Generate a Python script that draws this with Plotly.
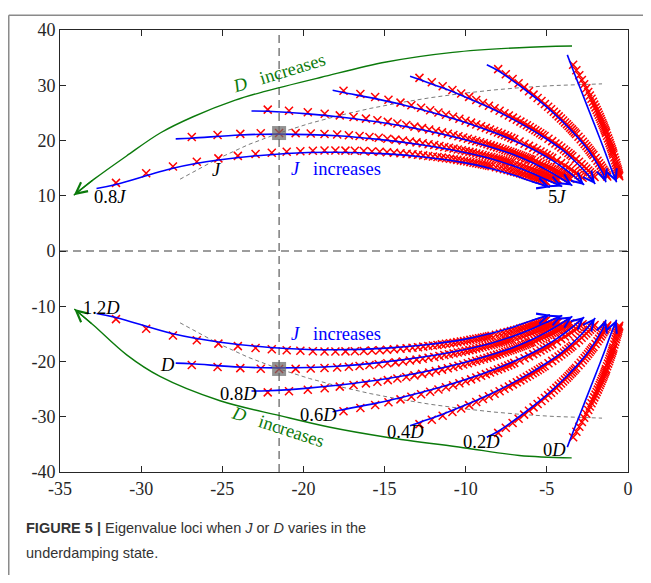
import plotly.graph_objects as go

# ---------------- axes / ticks ----------------
x_range = [-35, 0]
y_range = [-40, 40]
x_tick_vals = [-35, -30, -25, -20, -15, -10, -5, 0]
x_tick_text = ["-35", "-30", "-25", "-20", "-15", "-10", "-5", "0"]
y_tick_vals = [-40, -30, -20, -10, 0, 10, 20, 30, 40]
y_tick_text = ["-40", "-30", "-20", "-10", "0", "10", "20", "30", "40"]

# ---------------- red crosses (upper half, J = 0.8J ... 5J) ----------------
cross_re_12 = [-31.55, -29.69, -28.04, -26.57, -25.24, -24.04, -22.95, -21.95, -21.03, -20.19, -19.42, -18.70, -18.03, -17.41, -16.83, -16.28, -15.78, -15.30, -14.85, -14.42, -14.02, -13.64, -13.28, -12.94, -12.62, -12.02, -11.47, -10.97, -10.52, -10.10, -9.71, -9.35, -9.01, -8.70, -8.41, -7.89, -7.42, -7.01, -6.64, -6.31, -6.01, -5.74, -5.49, -5.26, -5.05]
cross_im_12 = [12.33, 14.08, 15.28, 16.14, 16.76, 17.22, 17.55, 17.79, 17.96, 18.07, 18.14, 18.18, 18.18, 18.17, 18.13, 18.09, 18.02, 17.95, 17.88, 17.79, 17.70, 17.61, 17.51, 17.41, 17.31, 17.11, 16.90, 16.69, 16.49, 16.29, 16.09, 15.89, 15.70, 15.52, 15.34, 14.99, 14.66, 14.35, 14.05, 13.77, 13.51, 13.26, 13.02, 12.79, 12.57]
cross_re_12_mid = [-12.31, -11.74, -11.22, -10.74, -10.30, -9.90, -9.52, -9.18, -8.86, -8.56, -8.14, -7.65, -7.21, -6.82, -6.47, -6.16, -5.87, -5.61, -5.37, -5.15]
cross_im_12_mid = [17.21, 17.00, 16.80, 16.59, 16.39, 16.19, 15.99, 15.80, 15.61, 15.43, 15.16, 14.82, 14.50, 14.20, 13.91, 13.64, 13.38, 13.14, 12.90, 12.68]

cross_re_10 = [-26.88, -25.29, -23.89, -22.63, -21.50, -20.48, -19.55, -18.70, -17.92, -17.20, -16.54, -15.93, -15.36, -14.83, -14.33, -13.87, -13.44, -13.03, -12.65, -12.29, -11.94, -11.62, -11.32, -11.03, -10.75, -10.24, -9.77, -9.35, -8.96, -8.60, -8.27, -7.96, -7.68, -7.41, -7.17, -6.72, -6.32, -5.97, -5.66, -5.38, -5.12, -4.89, -4.67, -4.48, -4.30]
cross_im_10 = [20.62, 20.98, 21.20, 21.31, 21.35, 21.33, 21.27, 21.18, 21.07, 20.94, 20.80, 20.65, 20.49, 20.33, 20.16, 20.00, 19.83, 19.66, 19.49, 19.33, 19.17, 19.00, 18.84, 18.69, 18.53, 18.23, 17.94, 17.66, 17.39, 17.12, 16.87, 16.63, 16.40, 16.17, 15.96, 15.55, 15.17, 14.81, 14.48, 14.16, 13.87, 13.59, 13.33, 13.08, 12.85]
cross_re_10_mid = [-10.49, -10.00, -9.56, -9.15, -8.78, -8.43, -8.11, -7.82, -7.54, -7.29, -6.94, -6.52, -6.14, -5.81, -5.51, -5.24, -5.00, -4.78, -4.57, -4.39]
cross_im_10_mid = [18.38, 18.08, 17.80, 17.52, 17.25, 17.00, 16.75, 16.51, 16.29, 16.06, 15.75, 15.35, 14.99, 14.64, 14.32, 14.01, 13.73, 13.46, 13.21, 12.96]

cross_re_08 = [-22.20, -20.89, -19.73, -18.69, -17.76, -16.91, -16.15, -15.44, -14.80, -14.21, -13.66, -13.16, -12.69, -12.25, -11.84, -11.46, -11.10, -10.76, -10.45, -10.15, -9.87, -9.60, -9.35, -9.11, -8.88, -8.46, -8.07, -7.72, -7.40, -7.10, -6.83, -6.58, -6.34, -6.12, -5.92, -5.55, -5.22, -4.93, -4.67, -4.44, -4.23, -4.04, -3.86, -3.70, -3.55]
cross_im_08 = [25.59, 25.37, 25.11, 24.84, 24.55, 24.25, 23.96, 23.66, 23.37, 23.08, 22.79, 22.51, 22.24, 21.98, 21.72, 21.47, 21.23, 20.99, 20.76, 20.53, 20.31, 20.10, 19.89, 19.69, 19.50, 19.12, 18.76, 18.43, 18.10, 17.80, 17.50, 17.23, 16.96, 16.70, 16.46, 16.00, 15.58, 15.19, 14.82, 14.48, 14.17, 13.87, 13.59, 13.33, 13.08]
cross_re_08_mid = [-8.66, -8.26, -7.89, -7.56, -7.25, -6.96, -6.70, -6.46, -6.23, -6.02, -5.73, -5.38, -5.07, -4.80, -4.55, -4.33, -4.13, -3.95, -3.78, -3.62]
cross_im_08_mid = [19.31, 18.94, 18.59, 18.26, 17.95, 17.65, 17.36, 17.09, 16.83, 16.58, 16.23, 15.79, 15.38, 15.00, 14.65, 14.32, 14.02, 13.73, 13.46, 13.20]

cross_re_06 = [-17.53, -16.49, -15.58, -14.76, -14.02, -13.35, -12.75, -12.19, -11.68, -11.22, -10.78, -10.39, -10.01, -9.67, -9.35, -9.05, -8.76, -8.50, -8.25, -8.01, -7.79, -7.58, -7.38, -7.19, -7.01, -6.68, -6.37, -6.10, -5.84, -5.61, -5.39, -5.19, -5.01, -4.83, -4.67, -4.38, -4.12, -3.89, -3.69, -3.51, -3.34, -3.19, -3.05, -2.92, -2.80]
cross_im_06 = [28.99, 28.42, 27.88, 27.36, 26.86, 26.38, 25.93, 25.49, 25.07, 24.67, 24.29, 23.92, 23.57, 23.23, 22.91, 22.59, 22.29, 22.00, 21.73, 21.46, 21.20, 20.95, 20.71, 20.47, 20.25, 19.81, 19.41, 19.03, 18.67, 18.32, 18.00, 17.69, 17.40, 17.12, 16.86, 16.36, 15.91, 15.49, 15.10, 14.74, 14.40, 14.09, 13.79, 13.52, 13.26]

cross_re_04 = [-12.85, -12.09, -11.42, -10.82, -10.28, -9.79, -9.35, -8.94, -8.57, -8.22, -7.91, -7.61, -7.34, -7.09, -6.85, -6.63, -6.43, -6.23, -6.05, -5.87, -5.71, -5.56, -5.41, -5.27, -5.14, -4.90, -4.67, -4.47, -4.28, -4.11, -3.95, -3.81, -3.67, -3.54, -3.43, -3.21, -3.02, -2.86, -2.71, -2.57, -2.45, -2.34, -2.23, -2.14, -2.06]
cross_im_04 = [31.34, 30.56, 29.83, 29.14, 28.50, 27.90, 27.34, 26.80, 26.30, 25.82, 25.37, 24.94, 24.53, 24.14, 23.77, 23.42, 23.08, 22.75, 22.44, 22.14, 21.85, 21.57, 21.30, 21.05, 20.80, 20.33, 19.89, 19.47, 19.08, 18.72, 18.37, 18.04, 17.73, 17.44, 17.15, 16.63, 16.15, 15.71, 15.31, 14.93, 14.58, 14.25, 13.95, 13.66, 13.39]

cross_re_02 = [-8.00, -7.53, -7.11, -6.74, -6.40, -6.10, -5.82, -5.57, -5.33, -5.12, -4.92, -4.74, -4.57, -4.41, -4.27, -4.13, -4.00, -3.88, -3.76, -3.66, -3.56, -3.46, -3.37, -3.28, -3.20, -3.05, -2.91, -2.78, -2.67, -2.56, -2.46, -2.37, -2.29, -2.21, -2.13, -2.00, -1.88, -1.78, -1.68, -1.60, -1.52, -1.45, -1.39, -1.33, -1.28]
cross_im_02 = [32.92, 31.99, 31.14, 30.35, 29.62, 28.93, 28.30, 27.70, 27.14, 26.61, 26.11, 25.64, 25.20, 24.77, 24.37, 23.98, 23.62, 23.27, 22.93, 22.61, 22.30, 22.01, 21.72, 21.45, 21.18, 20.68, 20.22, 19.78, 19.38, 18.99, 18.63, 18.29, 17.96, 17.65, 17.36, 16.82, 16.32, 15.87, 15.45, 15.06, 14.71, 14.37, 14.06, 13.77, 13.49]

cross_re_00 = [-3.38, -3.18, -3.00, -2.84, -2.70, -2.57, -2.45, -2.35, -2.25, -2.16, -2.08, -2.00, -1.93, -1.86, -1.80, -1.74, -1.69, -1.64, -1.59, -1.54, -1.50, -1.46, -1.42, -1.38, -1.35, -1.29, -1.23, -1.17, -1.13, -1.08, -1.04, -1.00, -0.96, -0.93, -0.90, -0.84, -0.79, -0.75, -0.71, -0.68, -0.64, -0.61, -0.59, -0.56, -0.54]
cross_im_00 = [33.71, 32.71, 31.80, 30.96, 30.18, 29.46, 28.78, 28.16, 27.57, 27.01, 26.49, 26.00, 25.53, 25.09, 24.67, 24.27, 23.89, 23.53, 23.18, 22.85, 22.53, 22.23, 21.93, 21.65, 21.38, 20.87, 20.39, 19.94, 19.53, 19.13, 18.76, 18.41, 18.08, 17.77, 17.47, 16.92, 16.41, 15.95, 15.53, 15.13, 14.77, 14.43, 14.11, 13.82, 13.54]

# ---------------- blue loci (upper half, arrow at 5J) ----------------
blue_re_12 = [-32.75, -31.55, -28.04, -25.24, -21.03, -18.03, -14.85, -12.62, -10.10, -8.41, -7.01, -6.01, -4.81]
blue_im_12 = [11.30, 12.03, 14.98, 16.46, 17.66, 17.88, 17.58, 17.01, 15.99, 14.89, 13.70, 12.66, 11.55]
blue_re_10 = [-27.87, -26.88, -23.89, -21.50, -17.92, -15.36, -12.65, -10.75, -8.60, -7.17, -5.97, -5.12, -4.05]
blue_im_10 = [20.30, 20.42, 21.00, 21.15, 20.85, 20.20, 19.19, 18.23, 16.82, 15.51, 14.16, 13.02, 11.66]
blue_re_08 = [-23.20, -22.20, -19.73, -17.76, -14.80, -12.69, -10.45, -8.88, -7.10, -5.92, -4.93, -4.23, -3.43]
blue_im_08 = [25.35, 25.29, 24.81, 24.25, 23.07, 21.94, 20.46, 19.20, 17.50, 16.01, 14.54, 13.32, 11.84]
blue_re_06 = [-18.20, -17.53, -15.58, -14.02, -11.68, -10.01, -8.25, -7.01, -5.61, -4.67, -3.89, -3.34, -2.70]
blue_im_06 = [29.10, 28.69, 27.58, 26.56, 24.77, 23.27, 21.43, 19.95, 18.02, 16.41, 14.84, 13.55, 11.96]
blue_re_04 = [-13.43, -12.85, -11.42, -10.28, -8.57, -7.34, -6.05, -5.14, -4.11, -3.43, -2.86, -2.45, -2.02]
blue_im_04 = [31.65, 31.04, 29.53, 28.20, 26.00, 24.23, 22.14, 20.50, 18.42, 16.70, 15.06, 13.73, 12.14]
blue_re_02 = [-8.70, -8.00, -7.11, -6.40, -5.33, -4.57, -3.76, -3.20, -2.56, -2.13, -1.78, -1.52, -1.36]
blue_im_02 = [33.70, 32.62, 30.84, 29.32, 26.84, 24.90, 22.63, 20.88, 18.69, 16.91, 15.22, 13.86, 12.45]
blue_re_00 = [-3.74, -3.35, -2.95, -2.55, -2.15, -1.75, -1.40, -1.05, -0.70]
blue_im_00 = [35.50, 32.50, 29.50, 26.50, 23.50, 20.50, 17.80, 15.00, 12.45]

# ---------------- J = J0 locus (dashed) and operating point ----------------
j0_locus_re = [-27.60, -25.24, -23.37, -21.50, -19.63, -17.76, -15.89, -14.02, -12.15, -10.28, -8.34, -6.40, -4.55, -2.70, -1.60]
j0_locus_im = [13.00, 16.76, 19.28, 21.35, 23.08, 24.55, 25.80, 26.86, 27.76, 28.50, 29.13, 29.62, 29.95, 30.18, 30.25]
op_re = -21.50
op_im = 21.35

# ---------------- "D increases" arcs ----------------
green_up_re = [-3.45, -6.70, -10.80, -14.90, -18.90, -22.50, -24.20, -26.80, -28.80, -30.90, -32.90, -34.15]
green_up_im = [37.10, 36.80, 35.95, 34.20, 31.45, 28.80, 27.30, 24.30, 21.40, 17.20, 13.00, 10.10]
green_lo_re = [-3.47, -6.70, -10.15, -14.88, -18.36, -21.45, -25.14, -28.84, -30.89, -32.95, -34.12]
green_lo_im = [-37.45, -37.00, -35.60, -33.70, -31.90, -29.80, -27.10, -22.70, -18.80, -13.40, -10.50]

# ---------------- text labels ----------------
black_label_text = ["0.8<i>J</i>", "<i>J</i>", "5<i>J</i>", "1.2<i>D</i>", "<i>D</i>", "0.8<i>D</i>",
                    "0.6<i>D</i>", "0.4<i>D</i>", "0.2<i>D</i>", "0<i>D</i>"]
black_label_re = [-31.9, -25.35, -4.4, -32.45, -28.4, -24.0, -19.1, -13.74, -9.02, -4.5]
black_label_im = [9.8, 14.7, 9.8, -10.3, -20.7, -25.8, -29.7, -32.8, -34.6, -36.1]
blue_label_text = ["<i>J</i>\u00a0\u00a0 increases", "<i>J</i>\u00a0\u00a0 increases"]
blue_label_re = [-18.0, -18.0]
blue_label_im = [14.9, -15.0]
green_label_text = ["<i>D</i>\u00a0\u00a0 increases", "<i>D</i>\u00a0\u00a0 increases"]
green_label_re = [-21.5, -21.55]
green_label_im = [32.2, -31.8]
green_label_angle = [-17, 18]

caption_line1 = "<b>FIGURE 5 |</b> Eigenvalue loci when <i>J</i> or <i>D</i> varies in the"
caption_line2 = "underdamping state."

# ---------------- styles ----------------
RED = "#ff0000"
BLUE = "#0000ff"
GREEN = "#0b7a0b"
SERIF = "Liberation Serif"
SANS = "Liberation Sans"
LABEL_SIZE = 18.5

cross_re = [cross_re_12, cross_re_12_mid, cross_re_10, cross_re_10_mid, cross_re_08, cross_re_08_mid,
            cross_re_06, cross_re_04, cross_re_02, cross_re_00]
cross_im = [cross_im_12, cross_im_12_mid, cross_im_10, cross_im_10_mid, cross_im_08, cross_im_08_mid,
            cross_im_06, cross_im_04, cross_im_02, cross_im_00]
blue_re = [blue_re_12, blue_re_10, blue_re_08, blue_re_06, blue_re_04, blue_re_02, blue_re_00]
blue_im = [blue_im_12, blue_im_10, blue_im_08, blue_im_06, blue_im_04, blue_im_02, blue_im_00]


def conj(values):
    return [-v for v in values]


fig = go.Figure()

# dashed J0 loci
for sgn in (1, -1):
    fig.add_trace(go.Scatter(
        x=j0_locus_re, y=[sgn * v for v in j0_locus_im], mode="lines",
        line=dict(color="#7a7a7a", width=1, dash="4px,3px"), hoverinfo="skip"))

# red crosses
all_x, all_y = [], []
for re_, im_ in zip(cross_re, cross_im):
    all_x += re_ + re_
    all_y += im_ + conj(im_)
fig.add_trace(go.Scatter(
    x=all_x, y=all_y, mode="markers",
    marker=dict(symbol="x-thin", size=8, color=RED, line=dict(color=RED, width=1.5)),
    hoverinfo="skip"))

# blue loci with arrowheads
arrow_anns = []
for re_, im_ in zip(blue_re, blue_im):
    for sgn in (1, -1):
        ys = [sgn * v for v in im_]
        fig.add_trace(go.Scatter(x=re_, y=ys, mode="lines",
                                 line=dict(color=BLUE, width=1.6, shape="spline"),
                                 hoverinfo="skip"))
        arrow_anns.append(dict(x=re_[-1], y=ys[-1], ax=re_[-2], ay=ys[-2],
                               xref="x", yref="y", axref="x", ayref="y", text="",
                               showarrow=True, arrowhead=5, arrowsize=1.6,
                               arrowwidth=1.3, arrowcolor=BLUE, standoff=0))

# green arcs
for gx, gy in ((green_up_re, green_up_im), (green_lo_re, green_lo_im)):
    fig.add_trace(go.Scatter(x=gx, y=gy, mode="lines",
                             line=dict(color=GREEN, width=1.4, shape="spline"),
                             hoverinfo="skip"))
    arrow_anns.append(dict(x=gx[-1], y=gy[-1], ax=gx[-2], ay=gy[-2],
                           xref="x", yref="y", axref="x", ayref="y", text="",
                           showarrow=True, arrowhead=5, arrowsize=1.7,
                           arrowwidth=1.3, arrowcolor=GREEN, standoff=0))

# operating point squares
fig.add_trace(go.Scatter(x=[op_re, op_re], y=[op_im, -op_im], mode="markers",
                         marker=dict(symbol="square", size=14, color="rgba(105,105,105,0.72)"),
                         hoverinfo="skip"))

# reference dashed lines
fig.add_shape(type="line", xref="x", yref="y", x0=op_re, x1=op_re, y0=y_range[0], y1=y_range[1],
              line=dict(color="#3a3a3a", width=1, dash="8px,5px"), layer="below")
fig.add_shape(type="line", xref="x", yref="y", x0=x_range[0], x1=x_range[1], y0=0, y1=0,
              line=dict(color="#3a3a3a", width=1, dash="8px,5px"), layer="below")

# page frame (top and left rule of the figure panel)
fig.add_shape(type="line", xref="paper", yref="paper", x0=-0.0902, x1=1.05, y0=1.0335, y1=1.0335,
              line=dict(color="#8a8a8a", width=1.5))
fig.add_shape(type="line", xref="paper", yref="paper", x0=-0.0902, x1=-0.0902, y0=1.0335, y1=-0.24,
              line=dict(color="#8a8a8a", width=1.5))

anns = list(arrow_anns)
for t, x, y in zip(black_label_text, black_label_re, black_label_im):
    anns.append(dict(x=x, y=y, xref="x", yref="y", text=t, showarrow=False,
                     font=dict(family=SERIF, size=LABEL_SIZE, color="black")))
for t, x, y in zip(blue_label_text, blue_label_re, blue_label_im):
    anns.append(dict(x=x, y=y, xref="x", yref="y", text=t, showarrow=False,
                     font=dict(family=SERIF, size=LABEL_SIZE, color=BLUE)))
for t, x, y, a in zip(green_label_text, green_label_re, green_label_im, green_label_angle):
    anns.append(dict(x=x, y=y, xref="x", yref="y", text=t, showarrow=False, textangle=a,
                     font=dict(family=SERIF, size=LABEL_SIZE, color=GREEN)))
anns.append(dict(x=-0.0634, y=-0.127, xref="paper", yref="paper", xanchor="left", yanchor="middle",
                 text=caption_line1, showarrow=False, font=dict(family=SANS, size=14.5, color="#333333")))
anns.append(dict(x=-0.0634, y=-0.183, xref="paper", yref="paper", xanchor="left", yanchor="middle",
                 text=caption_line2, showarrow=False, font=dict(family=SANS, size=14.5, color="#333333")))

axis_common = dict(showgrid=False, zeroline=False, showline=True, linecolor="#262626", linewidth=1,
                   mirror="ticks", ticks="inside", ticklen=6, tickcolor="#262626", tickwidth=1,
                   tickfont=dict(family=SERIF, size=18, color="#262626"))

fig.update_layout(
    width=643, height=567,
    margin=dict(l=52, r=23, t=16, b=103),
    paper_bgcolor="white", plot_bgcolor="white",
    font=dict(family=SERIF, size=18, color="#262626"),
    showlegend=False,
    annotations=anns,
    xaxis=dict(range=x_range, tickvals=x_tick_vals, ticktext=x_tick_text, **axis_common),
    yaxis=dict(range=y_range, tickvals=y_tick_vals, ticktext=y_tick_text, **axis_common),
)

fig.write_html("out.html")
